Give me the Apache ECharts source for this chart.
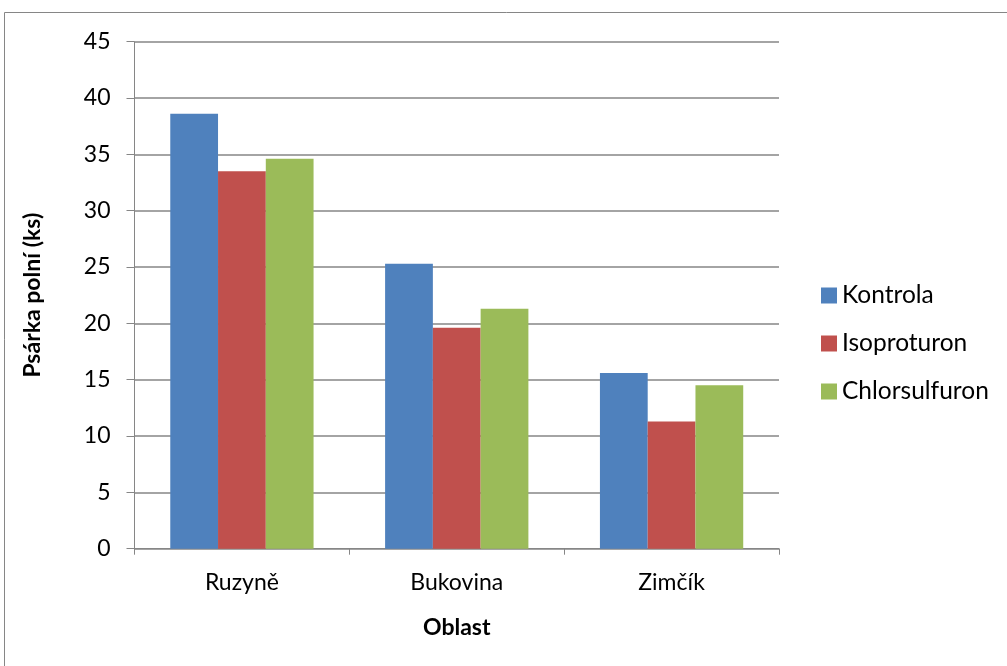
<!DOCTYPE html>
<html>
<head>
<meta charset="utf-8">
<script src="https://cdn.jsdelivr.net/npm/echarts@6/dist/echarts.min.js"></script>
<style>
  html, body { margin: 0; padding: 0; background: #fff; }
  #chart { width: 1007px; height: 666px; }
</style>
</head>
<body>
<div id="chart"></div>
<script>
// Počet rostlin psárky polní podle oblasti a ošetření
const categories = ['Ruzyně', 'Bukovina', 'Zimčík'];
const kontrola = [38.6, 25.3, 15.6];
const isoproturon = [33.5, 19.6, 11.3];
const chlorsulfuron = [34.6, 21.3, 14.5];
const yTicks = { min: 0, max: 45, interval: 5 };

const FONT = 'Lato, "Open Sans", sans-serif';
const FS = 23;
const GRAY = '#868686';

const chart = echarts.init(document.getElementById('chart'), null, { renderer: 'canvas' });

chart.setOption({
  animation: false,
  backgroundColor: '#fff',
  textStyle: { fontFamily: FONT },
  graphic: [{
    type: 'rect',
    shape: { x: 4.5, y: 12.5, width: 1100, height: 1000 },
    style: { fill: 'none', stroke: GRAY, lineWidth: 1 },
    silent: true
  }],
  grid: { left: 134.5, right: 228, top: 41.7, bottom: 117.3, containLabel: false },
  legend: {
    orient: 'vertical',
    left: 816,
    top: 278,
    itemWidth: 16,
    itemHeight: 16,
    itemGap: 23,
    icon: 'rect',
    textStyle: { fontFamily: FONT, fontSize: 24.5, color: '#000' },
    data: ['Kontrola', 'Isoproturon', 'Chlorsulfuron']
  },
  xAxis: {
    type: 'category',
    data: categories,
    name: 'Oblast',
    nameLocation: 'middle',
    nameGap: 67,
    nameTextStyle: { fontFamily: FONT, fontSize: FS, fontWeight: 'bold', color: '#000' },
    axisLine: { lineStyle: { color: GRAY, width: 1 } },
    axisTick: { show: true, length: 6, lineStyle: { color: GRAY }, alignWithLabel: false },
    axisLabel: { fontFamily: FONT, fontSize: FS, color: '#000', margin: 22 }
  },
  yAxis: {
    type: 'value',
    min: yTicks.min,
    max: yTicks.max,
    interval: yTicks.interval,
    name: 'Psárka polní (ks)',
    nameLocation: 'middle',
    nameGap: 90,
    nameRotate: 90,
    nameTextStyle: { fontFamily: FONT, fontSize: FS, fontWeight: 'bold', color: '#000' },
    axisLine: { show: true, lineStyle: { color: GRAY, width: 1 } },
    axisTick: { show: true, length: 8, inside: false, lineStyle: { color: GRAY } },
    axisLabel: { fontFamily: FONT, fontSize: FS, color: '#000', margin: 24 },
    splitLine: { show: true, lineStyle: { color: GRAY, width: 1.5 } }
  },
  series: [
    { name: 'Kontrola', type: 'bar', data: kontrola, itemStyle: { color: '#4F81BD' }, barGap: '0%', barCategoryGap: '33.3%' },
    { name: 'Isoproturon', type: 'bar', data: isoproturon, itemStyle: { color: '#C0504D' }, barGap: '0%', barCategoryGap: '33.3%' },
    { name: 'Chlorsulfuron', type: 'bar', data: chlorsulfuron, itemStyle: { color: '#9BBB59' }, barGap: '0%', barCategoryGap: '33.3%' }
  ]
});
</script>
</body>
</html>
